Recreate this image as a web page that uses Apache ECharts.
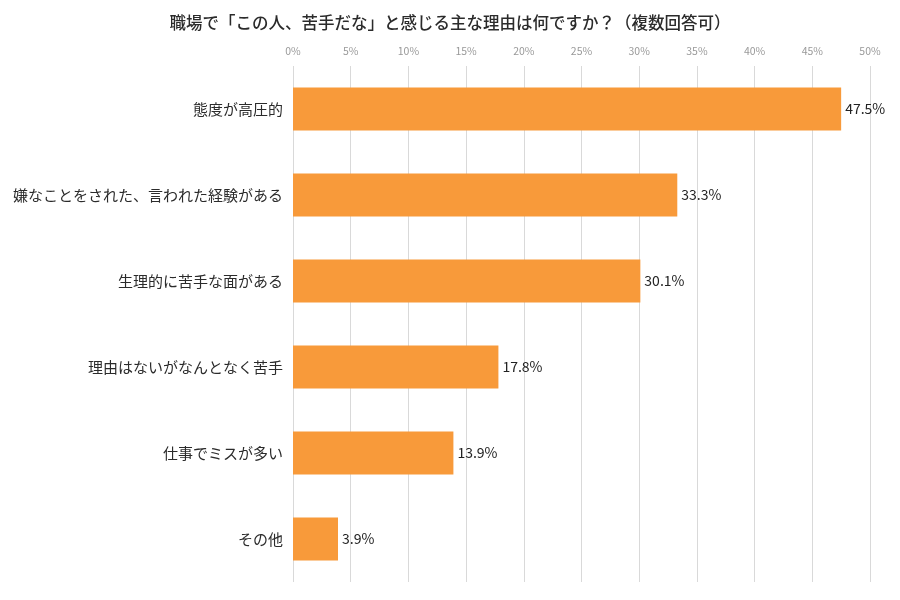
<!DOCTYPE html>
<html>
<head>
<meta charset="utf-8">
<script src="https://cdn.jsdelivr.net/npm/echarts@6/dist/echarts.min.js"></script>
<style>html,body{margin:0;padding:0;background:#fff;}#c{width:900px;height:600px;}</style>
</head>
<body>
<div id="c"></div>
<script>
const categories = ['態度が高圧的', '嫌なことをされた、言われた経験がある', '生理的に苦手な面がある', '理由はないがなんとなく苦手', '仕事でミスが多い', 'その他'];
const values = [47.5, 33.3, 30.1, 17.8, 13.9, 3.9];
const chart = echarts.init(document.getElementById('c'));
const font = '"Noto Sans CJK JP", "Noto Sans", sans-serif';
chart.setOption({
  animation: false,
  title: {
    text: '職場で「この人、苦手だな」と感じる主な理由は何ですか？（複数回答可）',
    left: 'center', top: 9,
    textStyle: { fontFamily: font, fontSize: 16.5, fontWeight: 500, color: '#2b2b2b' }
  },
  grid: { left: 293, right: 30, top: 66, bottom: 18 },
  xAxis: {
    type: 'value', position: 'top', min: 0, max: 50, interval: 5,
    axisLine: { show: false }, axisTick: { show: false },
    axisLabel: { formatter: '{value}%', color: '#999', fontSize: 10.5, fontFamily: font, margin: 10 },
    splitLine: { lineStyle: { color: '#d9d9d9', width: 1 } }
  },
  yAxis: {
    type: 'category', data: categories, inverse: true,
    axisLine: { show: false }, axisTick: { show: false },
    axisLabel: { color: '#2b2b2b', fontSize: 15, fontFamily: font, margin: 10 }
  },
  series: [{
    type: 'bar', data: values, barWidth: '50%',
    itemStyle: { color: '#F89A3A' },
    label: { show: true, position: 'right', distance: 4, formatter: p => p.value.toFixed(1) + '%', color: '#222', fontSize: 14, fontFamily: font }
  }]
});
</script>
</body>
</html>
